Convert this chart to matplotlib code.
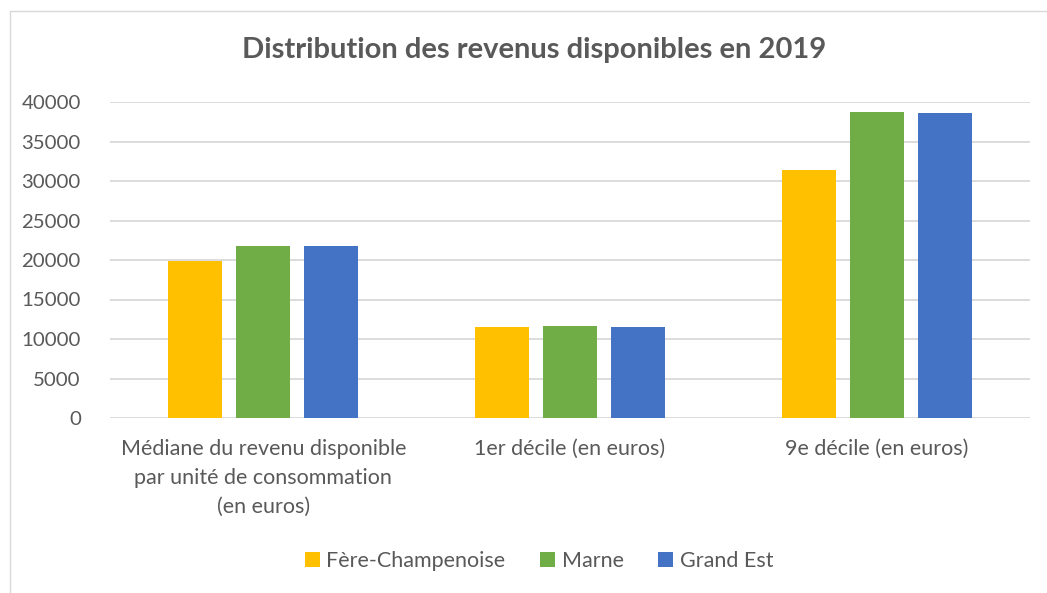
import matplotlib.pyplot as plt
import numpy as np
from matplotlib.lines import Line2D

categories = ["Médiane du revenu disponible\npar unité de consommation\n(en euros)",
              "1er décile (en euros)",
              "9e décile (en euros)"]
series = ["Fère-Champenoise", "Marne", "Grand Est"]
fere = [19900, 11500, 31400]
marne = [21800, 11650, 38700]
grand_est = [21800, 11500, 38600]
colors = ["#FFC000", "#70AD47", "#4472C4"]
yticks = [0, 5000, 10000, 15000, 20000, 25000, 30000, 35000, 40000]

plt.rcParams['font.family'] = ['Lato', 'DejaVu Sans']
txt = "#595959"

W, H = 1047, 593
fig = plt.figure(figsize=(W / 100, H / 100), dpi=100)
# chart border (only top and left edges are inside the picture)
fig.lines.append(Line2D([9.5 / W, 9.5 / W, 1], [0, 1 - 10.5 / H, 1 - 10.5 / H],
                        transform=fig.transFigure, color="#d9d9d9", linewidth=1))

ax = fig.add_axes([110 / W, (H - 418) / H, 920 / W, 316 / H])
x = np.arange(len(categories))
step, width = 0.222, 0.176
for j, (vals, name) in enumerate(zip([fere, marne, grand_est], series)):
    ax.bar(x + (j - 1) * step, vals, width, color=colors[j], label=name, zorder=3)

ax.set_xlim(-0.5, 2.5)
ax.set_ylim(0, 40000)
ax.set_yticks(yticks)
ax.set_yticklabels([str(v) for v in yticks], fontsize=14.7, color=txt)
ax.grid(axis="y", color="#d9d9d9", linewidth=1.3, zorder=0)
for s in ax.spines.values():
    s.set_visible(False)
ax.tick_params(length=0, pad=21)
ax.tick_params(axis="x", pad=15)
ax.set_xticks(x)
ax.set_xticklabels(categories, fontsize=15.5, color=txt, linespacing=1.55)

fig.text(534 / W, 1 - 50 / H, "Distribution des revenus disponibles en 2019",
         ha="center", va="center", fontsize=21, fontweight="bold", color=txt)

fig.legend(loc="center", bbox_to_anchor=(539 / W, 1 - 561 / H), ncol=3, frameon=False,
           fontsize=15.5, labelcolor=txt, handlelength=0.7, handleheight=0.7,
           handletextpad=0.3, columnspacing=1.6)

fig.savefig("out.png", dpi=100)
